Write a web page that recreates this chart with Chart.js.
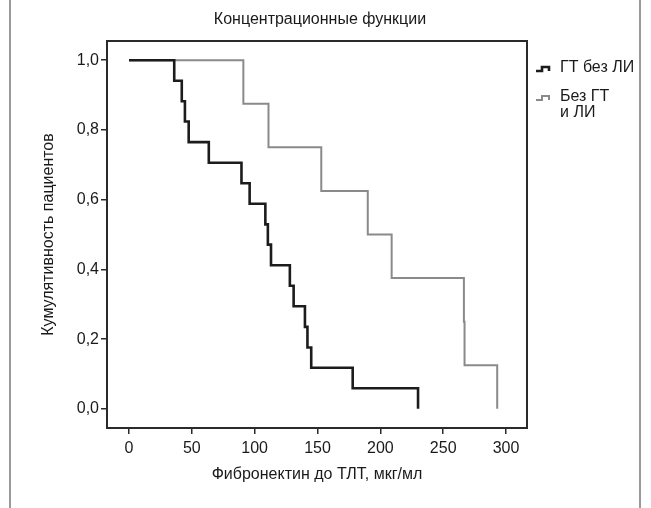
<!DOCTYPE html>
<html><head><meta charset="utf-8">
<script src="https://cdn.jsdelivr.net/npm/chart.js@4"></script>
<style>html,body{margin:0;padding:0;background:#fff;}</style>
</head><body>
<canvas id="c" width="651" height="508"></canvas>
<script>
const chartTitle = 'Концентрационные функции';
const xAxisTitle = 'Фибронектин до ТЛТ, мкг/мл';
const yAxisTitle = 'Кумулятивность пациентов';
const xTickValues = [0, 50, 100, 150, 200, 250, 300];
const yTickValues = [0, 0.2, 0.4, 0.6, 0.8, 1.0];
const seriesNames = [['ГТ без ЛИ'], ['Без ГТ', 'и ЛИ']];
const groupATimes = [0, 36, 42, 44.5, 47.5, 63.5, 89.5, 96, 108.5, 110.5, 113, 128, 131, 140, 142, 145, 178, 230];
const groupAValues = [1, 0.941, 0.882, 0.824, 0.765, 0.706, 0.647, 0.588, 0.529, 0.471, 0.412, 0.353, 0.294, 0.235, 0.176, 0.118, 0.059, 0];
const groupBTimes = [0, 91, 111, 153, 190, 209, 266.5, 267, 293];
const groupBValues = [1, 0.875, 0.75, 0.625, 0.5, 0.375, 0.25, 0.125, 0];

const FONT = 'Liberation Sans, Arial, sans-serif';
const seriesColors = ['#1c1c1c', '#8a8a8a'];
const seriesWidths = [2.6, 2];

const toPoints = (t, v) => t.map((x, i) => ({x: x, y: v[i]}));

const framePlugin = {
  id: 'frame',
  beforeDraw(chart) {
    const ctx = chart.ctx;
    ctx.save();
    ctx.fillStyle = '#fff';
    ctx.fillRect(0, 0, chart.width, chart.height);
    ctx.strokeStyle = '#9a9a9a';
    ctx.lineWidth = 2;
    ctx.beginPath();
    ctx.moveTo(10, 0); ctx.lineTo(10, chart.height);
    ctx.moveTo(640, 0); ctx.lineTo(640, chart.height);
    ctx.stroke();
    ctx.fillStyle = '#1a1a1a';
    ctx.font = '16px ' + FONT;
    ctx.textAlign = 'center';
    ctx.textBaseline = 'middle';
    ctx.fillText(chartTitle, 320, 20);
    ctx.restore();
  },
  afterDraw(chart) {
    const ctx = chart.ctx;
    const a = chart.chartArea;
    ctx.save();
    ctx.strokeStyle = '#2a2a2a';
    ctx.lineWidth = 2;
    ctx.strokeRect(a.left, a.top, a.right - a.left, a.bottom - a.top);
    // legend
    const lx = a.right + 9;
    const items = [{y: 68}, {y: 97}];
    ctx.font = '16px ' + FONT;
    ctx.textBaseline = 'middle';
    ctx.textAlign = 'left';
    chart.data.datasets.forEach((ds, i) => {
      const y = items[i].y;
      ctx.strokeStyle = ds.borderColor;
      ctx.lineWidth = ds.borderWidth;
      ctx.beginPath();
      ctx.moveTo(lx, y + 3);
      ctx.lineTo(lx + 6, y + 3);
      ctx.lineTo(lx + 6, y - 1);
      ctx.lineTo(lx + 13, y - 1);
      ctx.lineTo(lx + 13, y + 3);
      ctx.stroke();
      ctx.fillStyle = '#1a1a1a';
      seriesNames[i].forEach((line, k) => ctx.fillText(line, lx + 24, y + k * 16));
    });
    ctx.restore();
  }
};

new Chart(document.getElementById('c'), {
  type: 'line',
  data: {
    datasets: [
      {label: seriesNames[0].join(' '), data: toPoints(groupATimes, groupAValues), borderColor: seriesColors[0], borderWidth: seriesWidths[0], stepped: 'before', pointRadius: 0, fill: false},
      {label: seriesNames[1].join(' '), data: toPoints(groupBTimes, groupBValues), borderColor: seriesColors[1], borderWidth: seriesWidths[1], stepped: 'before', pointRadius: 0, fill: false}
    ]
  },
  options: {
    responsive: false,
    animation: false,
    devicePixelRatio: 1,
    layout: {padding: {left: 0, right: 124, top: 41, bottom: 0}},
    plugins: {
      legend: {display: false},
      tooltip: {enabled: false},
      title: {display: false}
    },
    scales: {
      x: {
        type: 'linear', min: -17.5, max: 316.7,
        afterBuildTicks: s => { s.ticks = xTickValues.map(v => ({value: v})); },
        afterFit: s => { s.height = 80; },
        ticks: {color: '#1a1a1a', font: {family: FONT, size: 16}, padding: 5, maxRotation: 0, autoSkip: false, callback: v => String(v)},
        grid: {drawOnChartArea: false, drawTicks: true, tickLength: 6, color: '#2a2a2a', lineWidth: 1.5},
        border: {display: false},
        title: {display: true, text: xAxisTitle, color: '#1a1a1a', font: {family: FONT, size: 16}, padding: {top: 4, bottom: 24}}
      },
      y: {
        type: 'linear', min: -0.055, max: 1.055,
        afterBuildTicks: s => { s.ticks = yTickValues.map(v => ({value: v})); },
        afterFit: s => { s.width = 107; },
        ticks: {color: '#1a1a1a', font: {family: FONT, size: 16}, padding: 2, autoSkip: false, callback: v => v.toFixed(1).replace('.', ',')},
        grid: {drawOnChartArea: false, drawTicks: true, tickLength: 6, color: '#2a2a2a', lineWidth: 1.5},
        border: {display: false},
        title: {display: true, text: yAxisTitle, color: '#1a1a1a', font: {family: FONT, size: 16}, padding: {top: 39, bottom: 4}}
      }
    }
  },
  plugins: [framePlugin]
});
</script>
</body></html>
